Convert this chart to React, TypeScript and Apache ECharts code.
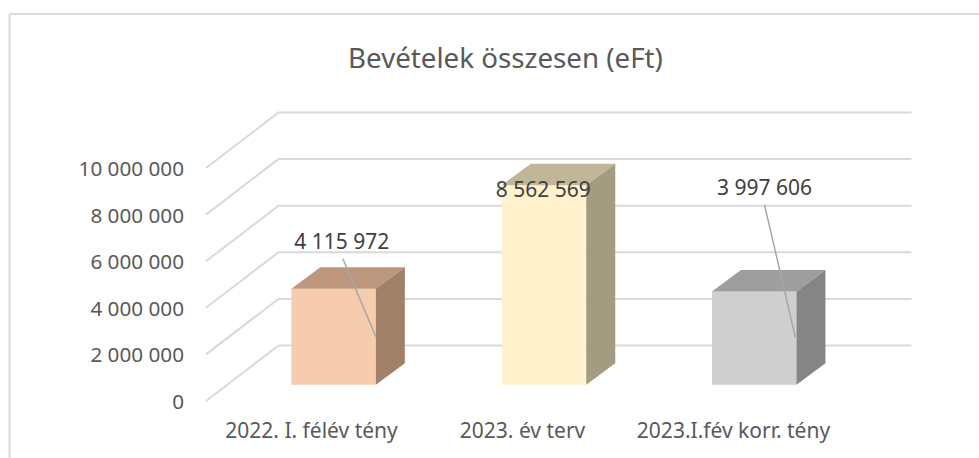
import React, { useEffect, useRef } from "react";
import * as echarts from "echarts";

const titleText = "Bevételek összesen (eFt)";
const categories = ["2022. I. félév tény", "2023. év terv", "2023.I.fév korr. tény"];
const values = [4115972, 8562569, 3997606];
const yTicks = [0, 2000000, 4000000, 6000000, 8000000, 10000000];
const frontColors = ["#f7cbad", "#fff2cd", "#d0cfd0"];
const topColors = ["#bc977e", "#c1b698", "#9e9e9e"];
const sideColors = ["#a18069", "#a39c80", "#858585"];

const FONT = "'Noto Sans', sans-serif";
const fmt = (v: number) => String(v).replace(/\B(?=(\d{3})+(?!\d))/g, " ");

// Pseudo-3D projection, in pixels
const WALL = { dx: 72.5, dy: -55.5 };
const BAR = { width: 84.5, dx: 29, dy: -21.5, offX: 22.5, offY: -16.3 };
// Per-bar nudge, label centre and optional leader line, relative to the bar's top-right front corner
const LABEL_POS = [
  { shift: -0.4, dx: -34, dy: -48, leader: [[-33, -30], [0, 48]] },
  { shift: -1, dx: -43, dy: 4, leader: null },
  { shift: -1.8, dx: -32, dy: -105, leader: [[-32, -87], [-1, 46]] },
];

function renderGrid(params: any, api: any) {
  const sys = params.coordSys;
  const y = api.coord([0, api.value(0)])[1];
  const x0 = sys.x;
  const x1 = sys.x + sys.width;
  return {
    type: "polyline",
    silent: true,
    shape: { points: [[x0, y], [x0 + WALL.dx, y + WALL.dy], [x1 + WALL.dx, y + WALL.dy]] },
    style: { fill: "none", stroke: "#d9d9d9", lineWidth: 2 },
  };
}

function renderBar(params: any, api: any) {
  const i = params.dataIndex;
  const cx = api.coord([i, 0])[0];
  const base = api.coord([i, 0])[1] + BAR.offY;
  const top = api.coord([i, api.value(1)])[1] + BAR.offY;
  const pos = LABEL_POS[i];
  const l = cx + BAR.offX + pos.shift - BAR.width / 2;
  const r = l + BAR.width;
  const { dx, dy } = BAR;
  const children: any[] = [
    { type: "polygon", shape: { points: [[l, base], [r, base], [r, top], [l, top]] }, style: { fill: frontColors[i] } },
    { type: "polygon", shape: { points: [[l, top], [r, top], [r + dx, top + dy], [l + dx, top + dy]] }, style: { fill: topColors[i] } },
    { type: "polygon", shape: { points: [[r, base], [r + dx, base + dy], [r + dx, top + dy], [r, top]] }, style: { fill: sideColors[i] } },
  ];
  if (pos.leader) {
    children.push({
      type: "line",
      shape: { x1: r + pos.leader[0][0], y1: top + pos.leader[0][1], x2: r + pos.leader[1][0], y2: top + pos.leader[1][1] },
      style: { stroke: "#a6a6a6", lineWidth: 1.5 },
    });
  }
  children.push({
    type: "text",
    style: {
      x: r + pos.dx,
      y: top + pos.dy,
      text: fmt(api.value(1)),
      fill: "#404040",
      font: `21px ${FONT}`,
      align: "center",
      verticalAlign: "middle",
    },
  });
  return { type: "group", children };
}

export default function App() {
  const ref = useRef<HTMLDivElement>(null);
  useEffect(() => {
    const chart = echarts.init(ref.current!, undefined, { renderer: "svg" });
    chart.setOption({
      animation: false,
      backgroundColor: "#ffffff",
      title: {
        text: titleText,
        left: 500.5,
        top: 38,
        textAlign: "center",
        textStyle: { color: "#595959", fontSize: 27.7, fontWeight: "normal", fontFamily: FONT },
      },
      grid: { left: 206, width: 633, top: 168, height: 233 },
      xAxis: {
        type: "category",
        data: categories,
        axisLine: { show: false },
        axisTick: { show: false },
        axisLabel: { color: "#595959", fontSize: 21, fontFamily: FONT, margin: 18, interval: 0 },
      },
      yAxis: {
        type: "value",
        min: 0,
        max: 10000000,
        interval: 2000000,
        splitLine: { show: false },
        axisLine: { show: false },
        axisTick: { show: false },
        axisLabel: { color: "#595959", fontSize: 20.7, fontFamily: FONT, margin: 22, formatter: (v: number) => fmt(v) },
      },
      series: [
        { type: "custom", renderItem: renderGrid, data: yTicks.map((v) => [v]), encode: { y: 0 }, z: 1, silent: true },
        { type: "custom", renderItem: renderBar, data: values.map((v, i) => [i, v]), encode: { x: 0, y: 1 }, z: 2, silent: true },
      ],
      graphic: [
        { type: "line", silent: true, shape: { x1: 9.5, y1: 14, x2: 979, y2: 14 }, style: { stroke: "#d9d9d9", lineWidth: 2 } },
        { type: "line", silent: true, shape: { x1: 9.5, y1: 14, x2: 9.5, y2: 458 }, style: { stroke: "#d9d9d9", lineWidth: 2 } },
      ],
    });
    return () => chart.dispose();
  }, []);
  return <div ref={ref} style={{ position: "fixed", left: 0, top: 0, width: 979, height: 458 }} />;
}
